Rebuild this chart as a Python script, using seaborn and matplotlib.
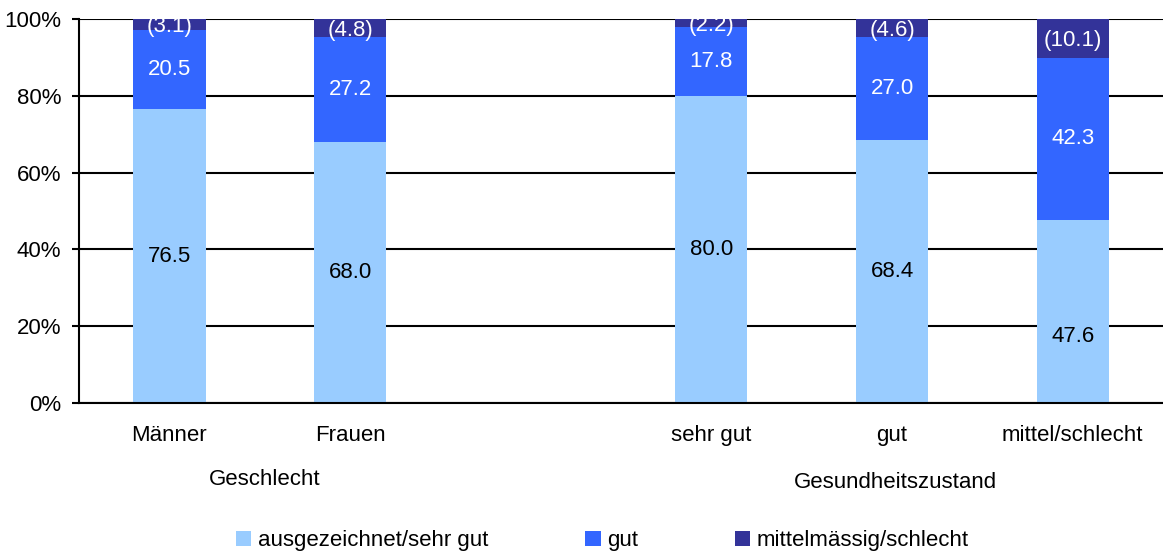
import pandas as pd
import seaborn as sns
import matplotlib.pyplot as plt
from matplotlib.patches import Patch

# Data
categories = ["Männer", "Frauen", "", "sehr gut", "gut", "mittel/schlecht"]
bar_cats = ["Männer", "Frauen", "sehr gut", "gut", "mittel/schlecht"]
ausgezeichnet = [76.5, 68.0, 80.0, 68.4, 47.6]
gut = [20.5, 27.2, 17.8, 27.0, 42.3]
mittel = [3.1, 4.8, 2.2, 4.6, 10.1]
series_names = ["ausgezeichnet/sehr gut", "gut", "mittelmässig/schlecht"]
colors = ["#99CCFF", "#3366FF", "#333399"]
groups = ["Geschlecht", "Gesundheitszustand"]

df = pd.DataFrame({"cat": bar_cats, "a": ausgezeichnet, "g": gut, "m": mittel})
df["ag"] = df["a"] + df["g"]
df["agm"] = df["ag"] + df["m"]

sns.set_style("white")
plt.rcParams["font.family"] = ["Liberation Sans", "DejaVu Sans"]
plt.rcParams["font.size"] = 16
plt.rcParams["text.color"] = "black"
plt.rcParams["xtick.color"] = "black"
plt.rcParams["ytick.color"] = "black"

fig = plt.figure(figsize=(11.63, 5.56), dpi=100)
ax = fig.add_axes([0.068, 0.275, 0.932, 0.691])

# stacked bars: draw cumulative totals from the top down
for col, c in zip(["agm", "ag", "a"], colors[::-1]):
    sns.barplot(data=df, x="cat", y=col, order=categories, color=c,
                width=0.4, saturation=1, linewidth=0, ax=ax, zorder=2)

# segment labels
for i, row in df.iterrows():
    xpos = categories.index(row["cat"])
    ya = row["a"] / 2
    if row["cat"] == "mittel/schlecht":
        ya = 17.4
    ax.text(xpos, ya, f"{row['a']:.1f}", ha="center", va="center", color="black", zorder=3)
    ax.text(xpos, row["a"] + row["g"] / 2, f"{row['g']:.1f}", ha="center", va="center",
            color="white", zorder=3)
    ax.text(xpos, row["ag"] + row["m"] / 2 - 0.6, f"({row['m']:.1f})", ha="center", va="center",
            color="white", zorder=3)

ax.set_ylim(0, 100)
ax.set_xlim(-0.5, 5.5)
ax.set_yticks([0, 20, 40, 60, 80, 100])
ax.set_yticklabels([f"{v}%" for v in range(0, 101, 20)])
ax.set_xlabel("")
ax.set_ylabel("")
ax.set_axisbelow(True)
ax.yaxis.grid(True, color="black", linewidth=1.5)
ax.tick_params(axis="y", left=True, length=5, width=1.5, pad=8, colors="black")
ax.tick_params(axis="x", length=0, pad=16, colors="black")
sns.despine(ax=ax, top=True, right=True)
for s in ["left", "bottom"]:
    ax.spines[s].set_color("black")
    ax.spines[s].set_linewidth(1.5)

# group labels
ax.text(0.53, -0.2, groups[0], transform=ax.get_xaxis_transform(), ha="center", va="center")
ax.text(4.02, -0.206, groups[1], transform=ax.get_xaxis_transform(), ha="center", va="center")

handles = [Patch(facecolor=c, edgecolor="none") for c in colors]
fig.legend(handles, series_names, loc="center", bbox_to_anchor=(0.518, 0.027), ncol=3,
           frameon=False, handlelength=0.7, handleheight=0.7, handletextpad=0.3,
           columnspacing=4.35)

plt.savefig("out.png", dpi=100)
